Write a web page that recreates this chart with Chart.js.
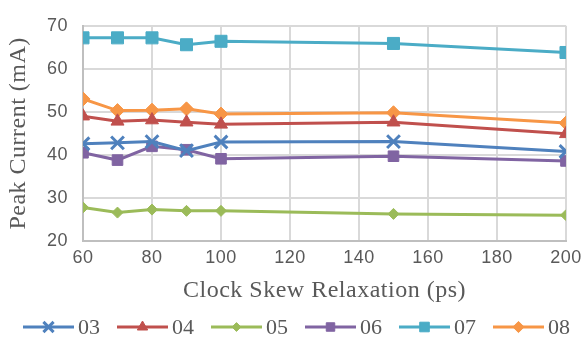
<!DOCTYPE html>
<html>
<head>
<meta charset="utf-8">
<script src="https://cdn.jsdelivr.net/npm/chart.js@4/dist/chart.umd.min.js"></script>
<style>
  html, body { margin: 0; padding: 0; background: #ffffff; }
  #wrap { width: 587px; height: 340px; position: relative; }
</style>
</head>
<body>
<div id="wrap"><canvas id="chart" width="587" height="340"></canvas></div>
<script>
// Clock skew relaxation (ps) on the x axis
const skew = [60, 70, 80, 90, 100, 150, 200];

// Peak current (mA) for each design
const names = ['03', '04', '05', '06', '07', '08'];
const s03 = [42.6, 42.8, 43.1, 41.0, 43.0, 43.1, 40.8];
const s04 = [49.0, 47.8, 48.1, 47.6, 47.1, 47.6, 44.9];
const s05 = [27.8, 26.6, 27.3, 27.0, 27.0, 26.3, 26.0];
const s06 = [40.5, 38.8, 42.0, 41.2, 39.1, 39.7, 38.6];
const s07 = [67.2, 67.2, 67.2, 65.6, 66.4, 65.9, 63.8];
const s08 = [53.0, 50.3, 50.4, 50.7, 49.5, 49.8, 47.4];

const yTicks = [20, 30, 40, 50, 60, 70];
const xTicks = [60, 80, 100, 120, 140, 160, 180, 200];

const seriesValues = [s03, s04, s05, s06, s07, s08];
const colors = ['#4F81BD', '#C0504D', '#9BBB59', '#8064A2', '#4BACC6', '#F79646'];
const markers = ['crossRot', 'triangle', 'rectRot', 'rect', 'rect', 'rectRot'];
const radii = [9, 7.5, 5.5, 7.5, 8.5, 7];
const markerBorder = [3, 1, 1, 1, 1, 1];

const datasets = names.map((name, i) => ({
  label: name,
  data: skew.map((x, j) => ({ x: x, y: seriesValues[i][j] })),
  borderColor: colors[i],
  backgroundColor: colors[i],
  pointBackgroundColor: colors[i],
  pointBorderColor: colors[i],
  pointStyle: markers[i],
  pointRadius: radii[i],
  pointHoverRadius: radii[i],
  pointBorderWidth: markerBorder[i],
  borderWidth: 3,
  tension: 0,
  fill: false
}));

const TEXT = '#595959';
const SERIF = '"Liberation Serif", "Times New Roman", serif';
const SANS = '"Liberation Sans", Arial, sans-serif';

// Slightly open letter spacing for all chart text
const textSpacing = {
  id: 'textSpacing',
  beforeDraw(chart) { chart.ctx.letterSpacing = '0.5px'; }
};

// Legend drawn as line + marker samples beneath the plot
const lineLegend = {
  id: 'lineLegend',
  afterDraw(chart) {
    const ctx = chart.ctx;
    const y = 327;
    const sample = 51, gapText = 4, gapItem = 17;
    ctx.save();
    ctx.letterSpacing = '0px';
    ctx.font = '22px ' + SERIF;
    const widths = chart.data.datasets.map(ds => sample + gapText + ctx.measureText(ds.label).width);
    const total = widths.reduce((a, b) => a + b, 0) + gapItem * (widths.length - 1);
    let x = (chart.width - total) / 2 + 3;
    chart.data.datasets.forEach((ds, i) => {
      ctx.strokeStyle = ds.borderColor;
      ctx.lineWidth = 3;
      ctx.beginPath();
      ctx.moveTo(x, y);
      ctx.lineTo(x + sample, y);
      ctx.stroke();
      ctx.fillStyle = ds.pointBackgroundColor;
      ctx.strokeStyle = ds.pointBorderColor;
      ctx.lineWidth = ds.pointBorderWidth;
      Chart.helpers.drawPoint(ctx, { pointStyle: ds.pointStyle, radius: ds.pointRadius * 0.8, rotation: 0, borderWidth: ds.pointBorderWidth }, x + sample / 2, y);
      ctx.fillStyle = TEXT;
      ctx.textBaseline = 'middle';
      ctx.textAlign = 'left';
      ctx.fillText(ds.label, x + sample + gapText, y + 1);
      x += widths[i] + gapItem;
    });
    ctx.restore();
  }
};

new Chart(document.getElementById('chart'), {
  type: 'line',
  data: { datasets: datasets },
  plugins: [textSpacing, lineLegend],
  options: {
    responsive: false,
    animation: false,
    events: [],
    layout: { padding: { left: 0, top: 14, right: 19, bottom: 30 } },
    plugins: {
      legend: { display: false },
      tooltip: { enabled: false }
    },
    scales: {
      x: {
        type: 'linear',
        min: 60,
        max: 200,
        afterBuildTicks: (scale) => { scale.ticks = xTicks.map(v => ({ value: v })); },
        afterFit: (scale) => { scale.height = 69; },
        grid: { color: '#d9d9d9', lineWidth: 2, drawTicks: false },
        border: { color: '#bfbfbf', width: 2 },
        ticks: { color: TEXT, font: { family: SANS, size: 18 }, padding: 6, maxRotation: 0 },
        title: {
          display: true,
          text: 'Clock Skew Relaxation (ps)',
          color: TEXT,
          font: { family: SERIF, size: 24 },
          padding: { top: 0, bottom: 5 }
        }
      },
      y: {
        min: 20,
        max: 70,
        afterBuildTicks: (scale) => { scale.ticks = yTicks.map(v => ({ value: v })); },
        afterFit: (scale) => { scale.width = 83; },
        grid: { color: '#d9d9d9', lineWidth: 2, drawTicks: false },
        border: { color: '#bfbfbf', width: 2 },
        ticks: { color: TEXT, font: { family: SANS, size: 18 }, padding: 15 },
        title: {
          display: true,
          text: 'Peak Current (mA)',
          color: TEXT,
          font: { family: SERIF, size: 24 },
          padding: { top: 4, bottom: 0 }
        }
      }
    }
  }
});
</script>
</body>
</html>
